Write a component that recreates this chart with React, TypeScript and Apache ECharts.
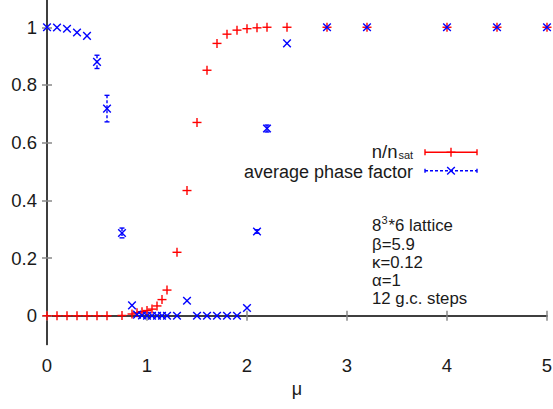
import React, { useEffect, useRef } from 'react';
import * as echarts from 'echarts';

const muValues = [0, 0.1, 0.2, 0.3, 0.4, 0.5, 0.6, 0.75, 0.85, 0.9, 0.95, 1.0, 1.05, 1.1, 1.15, 1.2, 1.3, 1.4, 1.5, 1.6, 1.7, 1.8, 1.9, 2.0, 2.1, 2.2, 2.4, 2.8, 3.2, 4.0, 4.5, 5.0];
const densityValues = [0, 0, 0, 0, 0, 0, 0, 0.001, 0.006, 0.01, 0.014, 0.018, 0.023, 0.034, 0.056, 0.089, 0.22, 0.434, 0.67, 0.851, 0.944, 0.976, 0.99, 0.995, 0.998, 1, 1, 1, 1, 1, 1, 1];
const phaseValues = [1.0, 0.999, 0.995, 0.982, 0.97, 0.88, 0.718, 0.287, 0.036, 0.004, 0.001, 0, 0, 0, 0, 0, 0, 0.052, 0, 0, 0, 0, 0, 0.027, 0.292, 0.649, 0.944, 1, 1, 1, 1, 1];
const phaseErrors = [0, 0, 0, 0, 0, 0.023, 0.046, 0.017, 0, 0, 0, 0, 0, 0, 0, 0, 0, 0, 0, 0, 0, 0, 0, 0, 0.006, 0.012, 0, 0, 0, 0, 0, 0];
const xTicks = [0, 1, 2, 3, 4, 5];
const yTicks = [0, 0.2, 0.4, 0.6, 0.8, 1];
const seriesNames = ['n/n_sat', 'average phase factor'];
const legendMain = 'n/n';
const legendSub = 'sat';
const annotationLines = ['β=5.9', 'κ=0.12', 'α=1', '12 g.c. steps'];

const RED = '#ff0000';
const BLUE = '#0000ff';
const FONT = "'Liberation Sans', Arial, Helvetica, sans-serif";
const TXT = '#1a1a1a';

function makeRender(kind: 'plus' | 'cross', color: string, dashed: boolean) {
  return (params: any, api: any) => {
    const x = api.value(0);
    const y = api.value(1);
    const e = api.value(2) || 0;
    const c = api.coord([x, y]);
    const children: any[] = [];
    const st = { stroke: color, lineWidth: 1.4, fill: 'none' };
    if (e > 0) {
      const top = api.coord([x, y + e]);
      const bot = api.coord([x, y - e]);
      children.push({ type: 'line', shape: { x1: c[0], y1: top[1], x2: c[0], y2: bot[1] }, style: { ...st, lineDash: dashed ? [3, 2] : null } });
      children.push({ type: 'line', shape: { x1: c[0] - 2.5, y1: top[1], x2: c[0] + 2.5, y2: top[1] }, style: st });
      children.push({ type: 'line', shape: { x1: c[0] - 2.5, y1: bot[1], x2: c[0] + 2.5, y2: bot[1] }, style: st });
    }
    const s = kind === 'plus' ? 4.5 : 3.8;
    if (kind === 'plus') {
      children.push({ type: 'line', shape: { x1: c[0] - s, y1: c[1], x2: c[0] + s, y2: c[1] }, style: st });
      children.push({ type: 'line', shape: { x1: c[0], y1: c[1] - s, x2: c[0], y2: c[1] + s }, style: st });
    } else {
      children.push({ type: 'line', shape: { x1: c[0] - s, y1: c[1] - s, x2: c[0] + s, y2: c[1] + s }, style: st });
      children.push({ type: 'line', shape: { x1: c[0] - s, y1: c[1] + s, x2: c[0] + s, y2: c[1] - s }, style: st });
    }
    return { type: 'group', children };
  };
}

export default function App() {
  const ref = useRef<HTMLDivElement>(null);
  useEffect(() => {
    const chart = echarts.init(ref.current!, null, { renderer: 'svg' });
    const axisLine = { show: true, lineStyle: { color: '#333', width: 1.5 } };
    const axisTickStyle = { color: '#888', width: 1.5 };
    const densityData = muValues.map((m, i) => [m, densityValues[i], 0]);
    const phaseData = muValues.map((m, i) => [m, phaseValues[i], phaseErrors[i]]);

    const lx1 = 425, lx2 = 477, lxm = 451;
    const r1 = 152.3, r2 = 170.7;
    const txt = (t: string, x: number, y: number, align: string, size: number) => ({
      type: 'text', x, y,
      style: { text: t, fill: TXT, font: `${size}px ${FONT}`, textAlign: align, textVerticalAlign: 'middle' },
    });
    const annSize = 16.8;
    const annStep = 18.2;
    const annY0 = 225.8;

    const option: any = {
      animation: false,
      grid: { left: 47, right: 6, top: -1.6, bottom: 64.4, containLabel: false, outerBoundsMode: 'none' },
      xAxis: [
        {
          type: 'value', min: 0, max: 5, interval: 1, position: 'bottom',
          name: 'μ', nameLocation: 'middle', nameGap: 28,
          nameTextStyle: { fontSize: 18, fontFamily: FONT, color: TXT },
          axisLine, splitLine: { show: false },
          axisTick: { show: true, inside: true, length: 5, lineStyle: axisTickStyle, customValues: xTicks },
          axisLabel: { fontSize: 18.5, fontFamily: FONT, color: TXT, margin: 11, customValues: xTicks, formatter: (v: number) => String(v) },
        },
        {
          type: 'value', min: 0, max: 5, interval: 1, position: 'top',
          axisLine, splitLine: { show: false },
          axisTick: { show: true, inside: true, length: 5, lineStyle: axisTickStyle, customValues: xTicks },
          axisLabel: { show: false },
        },
      ],
      yAxis: [
        {
          type: 'value', min: -0.1, max: 1.1, position: 'left',
          axisLine, splitLine: { show: false },
          axisTick: { show: true, inside: true, length: 5, lineStyle: axisTickStyle, customValues: yTicks },
          axisLabel: { fontSize: 18.5, fontFamily: FONT, color: TXT, margin: 10, customValues: yTicks, formatter: (v: number) => String(Math.round(v * 10) / 10) },
        },
        {
          type: 'value', min: -0.1, max: 1.1, position: 'right',
          axisLine, splitLine: { show: false },
          axisTick: { show: true, inside: true, length: 5, lineStyle: axisTickStyle, customValues: yTicks },
          axisLabel: { show: false },
        },
      ],
      series: [
        {
          type: 'custom', name: seriesNames[0], xAxisIndex: 0, yAxisIndex: 0, clip: false,
          renderItem: makeRender('plus', RED, false), data: densityData, encode: { x: 0, y: 1 }, z: 3,
        },
        {
          type: 'custom', name: seriesNames[1], xAxisIndex: 0, yAxisIndex: 0, clip: false,
          renderItem: makeRender('cross', BLUE, true), data: phaseData, encode: { x: 0, y: 1 }, z: 4,
        },
      ],
      graphic: [
        // legend
        txt(legendMain, 397.5, 151.5, 'right', 18.5),
        txt(legendSub, 398.5, 155, 'left', 11),
        txt(seriesNames[1], 413, 171.8, 'right', 18),
        { type: 'line', shape: { x1: lx1, y1: r1, x2: lx2, y2: r1 }, style: { stroke: RED, lineWidth: 1.4 } },
        { type: 'line', shape: { x1: lx1, y1: r1 - 3, x2: lx1, y2: r1 + 3 }, style: { stroke: RED, lineWidth: 1.4 } },
        { type: 'line', shape: { x1: lx2, y1: r1 - 3, x2: lx2, y2: r1 + 3 }, style: { stroke: RED, lineWidth: 1.4 } },
        { type: 'line', shape: { x1: lxm - 4.5, y1: r1, x2: lxm + 4.5, y2: r1 }, style: { stroke: RED, lineWidth: 1.4 } },
        { type: 'line', shape: { x1: lxm, y1: r1 - 4.5, x2: lxm, y2: r1 + 4.5 }, style: { stroke: RED, lineWidth: 1.4 } },
        { type: 'line', shape: { x1: lx1, y1: r2, x2: lx2, y2: r2 }, style: { stroke: BLUE, lineWidth: 1.4, lineDash: [3, 2] } },
        { type: 'line', shape: { x1: lx1, y1: r2 - 2, x2: lx1, y2: r2 + 2 }, style: { stroke: BLUE, lineWidth: 1.4 } },
        { type: 'line', shape: { x1: lx2, y1: r2 - 2, x2: lx2, y2: r2 + 2 }, style: { stroke: BLUE, lineWidth: 1.4 } },
        { type: 'line', shape: { x1: lxm - 3.8, y1: r2 - 3.8, x2: lxm + 3.8, y2: r2 + 3.8 }, style: { stroke: BLUE, lineWidth: 1.4 } },
        { type: 'line', shape: { x1: lxm - 3.8, y1: r2 + 3.8, x2: lxm + 3.8, y2: r2 - 3.8 }, style: { stroke: BLUE, lineWidth: 1.4 } },
        // annotation
        txt('8', 372, annY0, 'left', annSize),
        txt('3', 381.5, annY0 - 5.5, 'left', 11),
        txt('*6 lattice', 388.5, annY0, 'left', annSize),
        ...annotationLines.map((l, i) => txt(l, 372, annY0 + annStep * (i + 1), 'left', annSize)),
      ],
    };
    chart.setOption(option);
    return () => chart.dispose();
  }, []);
  return <div ref={ref} style={{ width: 553, height: 409, position: 'absolute', left: 0, top: 0 }} />;
}
